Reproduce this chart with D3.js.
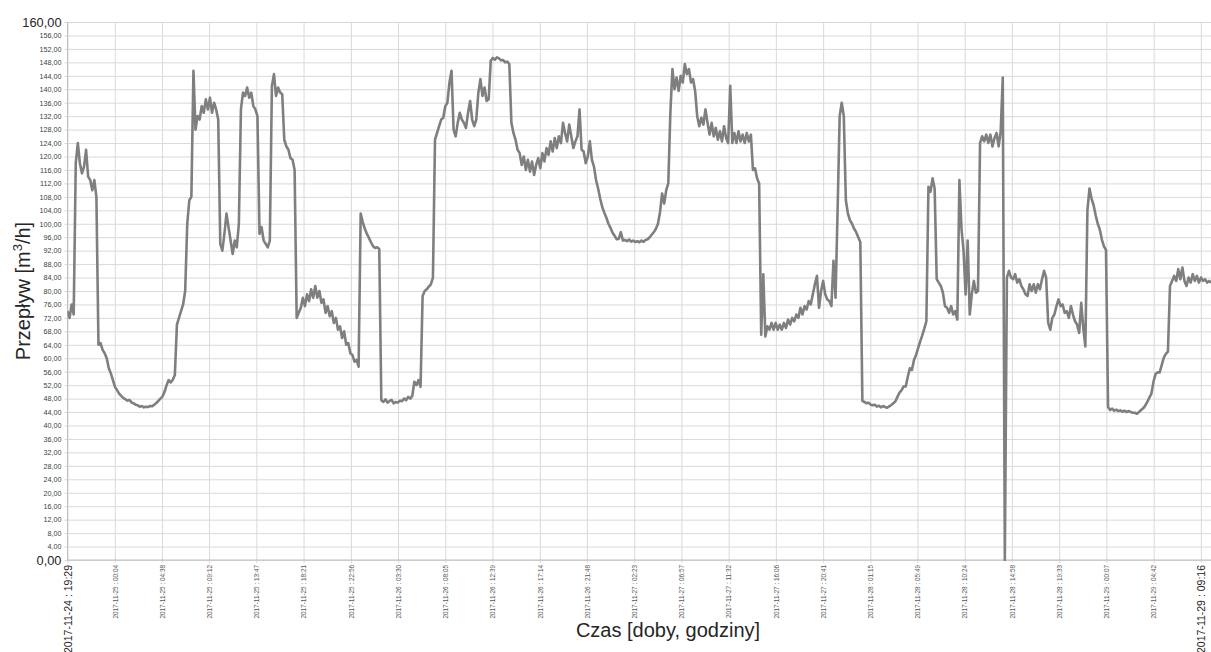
<!DOCTYPE html>
<html>
<head>
<meta charset="utf-8">
<script src="https://cdn.jsdelivr.net/npm/d3@7"></script>
<style>
  body { margin: 0; background: #fff; }
  svg { display: block; font-family: "Liberation Sans", Arial, sans-serif; }
</style>
</head>
<body>
<svg id="chart"></svg>
<script>
// Tick labels on the time axis (every ~4h34m)
const tickLabels = [
    '2017-11-24 : 19:29', '2017-11-25 : 00:04', '2017-11-25 : 04:38', '2017-11-25 : 09:12',
    '2017-11-25 : 13:47', '2017-11-25 : 18:21', '2017-11-25 : 22:56', '2017-11-26 : 03:30',
    '2017-11-26 : 08:05', '2017-11-26 : 12:39', '2017-11-26 : 17:14', '2017-11-26 : 21:48',
    '2017-11-27 : 02:23', '2017-11-27 : 06:57', '2017-11-27 : 11:32', '2017-11-27 : 16:06',
    '2017-11-27 : 20:41', '2017-11-28 : 01:15', '2017-11-28 : 05:49', '2017-11-28 : 10:24',
    '2017-11-28 : 14:58', '2017-11-28 : 19:33', '2017-11-29 : 00:07', '2017-11-29 : 04:42',
    '2017-11-29 : 09:16'
];

// Flow readings [m3/h], one every 12 minutes starting at the first tick
const startLabel = '2017-11-24 : 19:29';
const stepMinutes = 12;
const flow = [
    74, 72, 76, 73, 118, 124, 118, 115, 117, 122,
    114, 113, 110, 113, 108, 64, 64.5, 62.5, 61.5, 60,
    57, 55.5, 53.5, 51.5, 50.5, 49.5, 48.8, 48.2, 47.8, 47.4,
    47.6, 46.9, 46.6, 46.2, 46, 45.6, 45.8, 45.4, 45.6, 45.5,
    45.8, 45.7, 46.2, 46.7, 47.3, 48, 48.6, 50, 52, 53.5,
    52.8, 53.6, 55, 70, 72, 74, 76, 80, 100, 107,
    108, 145.5, 128, 132, 131, 135, 133, 137, 134, 137.5,
    133, 136, 134, 131, 94, 92, 97, 103, 99, 95,
    91, 95, 93, 100, 134, 139, 138, 140.5, 137.5, 139,
    135, 134, 132, 97, 99, 95, 94, 93, 95, 141,
    144.5, 138, 140.5, 139, 138.5, 125, 123, 122, 119.5, 119,
    116, 72, 73.5, 75, 78, 75.5, 79, 77, 80.5, 78,
    81.5, 78, 80, 76.5, 77.5, 73.5, 75.5, 72.5, 74, 70.5,
    72, 68.5, 69.5, 66, 68, 64, 64.5, 61.5, 61, 59,
    59.5, 57.5, 103, 100.5, 98.5, 97, 95.8, 94.5, 93.3, 92.8,
    93, 92.5, 47.5, 47, 47.8, 46.8, 47.3, 47.6, 46.6, 47,
    46.8, 47.4, 47.2, 48, 47.5, 48.5, 48, 48.8, 53, 52,
    53.5, 51.5, 78.5, 80, 80.5, 81.3, 82, 84, 125, 127,
    129, 131, 131.5, 135, 136, 142, 145.5, 128, 126, 130,
    133, 131, 130, 128.5, 133, 136.5, 131, 129, 131, 139,
    143, 138, 140.5, 136.5, 137, 148.5, 149.3, 148.8, 149.5, 149.2,
    148.6, 148.7, 148, 148.2, 147.5, 130, 127, 125, 122, 121,
    117.5, 120, 116, 119, 115.5, 118.5, 114.5, 117.5, 119.5, 116.5,
    121, 118.5, 122.5, 120.5, 124.5, 121.5, 125.5, 122.5, 126, 124,
    130, 127, 124.5, 129.5, 126, 122.5, 124.5, 126, 134, 122,
    121.5, 118, 120, 124.5, 119, 117, 113, 110.5, 107.5, 105,
    103.3, 101.8, 100, 98.8, 97.3, 96.4, 95.4, 95.5, 97.5, 95,
    95.2, 94.8, 95.3, 94.7, 95, 94.6, 94.8, 94.5, 95, 94.6,
    95.2, 95.4, 96, 96.8, 97.5, 98.5, 100, 103.5, 109, 106,
    110, 112, 133, 146, 140, 143.5, 139.5, 144, 142, 147.5,
    144.5, 146, 142, 143, 139.5, 132, 129, 131.5, 129.5, 134,
    130, 126.5, 130, 126, 128.5, 125, 127.5, 124.5, 129, 125.5,
    124, 141, 124, 127, 124, 127.5, 124.5, 126.5, 124, 127,
    124.5, 126.5, 116, 116.5, 113.5, 112, 67, 85, 66.5, 69.5,
    68.5, 70.5, 68.5, 70.5, 68.5, 70, 68.5, 70.5, 69, 71.5,
    70, 72, 71, 73, 72, 75, 73, 75.5, 74.5, 77,
    76, 79, 82, 84.5, 75, 80, 83, 79, 77.5, 77,
    75.5, 89, 78, 104, 132, 136, 132, 107, 103, 101,
    100, 98.5, 97.5, 96, 94.5, 47.3, 47, 46.6, 46.8, 46.2,
    46, 46.2, 45.6, 45.9, 45.4, 45.8, 45.5, 45.3, 45.7, 46.1,
    46.6, 47.2, 48.5, 49.8, 50.5, 51.6, 51.6, 54.5, 57, 56.5,
    59.5, 61, 63, 65, 66.8, 68.8, 71, 111, 109.5, 113.5,
    110.5, 83.5, 82.5, 81.5, 79.5, 75.5, 75, 73.5, 75.5, 73,
    74, 71.5, 113, 98.5, 92, 79, 95, 73, 79, 83,
    79.5, 80, 124, 126, 124.5, 126.5, 124, 126.5, 123, 125.5,
    127, 123, 127.5, 143.5, 0, 84, 86, 84, 83.5, 85,
    82.5, 83.5, 81.5, 80.5, 79, 78.5, 82, 80, 82, 79.5,
    82, 80.5, 83.5, 86, 84, 70.5, 68.5, 72, 73, 75.5,
    77.5, 75.5, 76, 73.5, 74, 72, 75.5, 73, 71, 70,
    67.5, 76.5, 69, 63.5, 104, 110.5, 107.5, 105.5, 102.5, 100,
    98.3, 95.3, 93.3, 92.2, 45.5, 44.6, 45, 44.4, 44.7, 44.3,
    44.5, 44.1, 44.4, 44, 44.3, 44, 43.8, 43.8, 43.5, 44,
    44.6, 45.1, 45.9, 47, 48.3, 49.5, 53, 55.3, 55.8, 55.8,
    58, 60.2, 61.3, 62, 81.5, 83, 84.5, 83, 86.5, 83.5,
    87, 83, 81.5, 84, 82.5, 85, 83, 84.5, 82.5, 84,
    83, 83.5, 82.5, 83, 82.5
];

const width = 1211, height = 652;
const margin = {top: 22, right: 0, bottom: 92, left: 67.5};
const plotBottom = height - margin.bottom;   // y of 0,00
const lastTickX = 1200.8;                    // x of the last time label

const parseTime = d3.timeParse('%Y-%m-%d : %H:%M');
const tickDates = tickLabels.map(parseTime);
const t0 = parseTime(startLabel);

const svg = d3.select('#chart').attr('width', width).attr('height', height);

const x = d3.scaleTime()
    .domain([tickDates[0], tickDates[tickDates.length - 1]])
    .range([margin.left, lastTickX]);

const y = d3.scaleLinear()
    .domain([0, 160])
    .range([plotBottom, margin.top]);

const yTicks = d3.range(0, 161, 4);
const fmt = d => d3.format('.2f')(d).replace('.', ',');

// horizontal grid + y labels
const yAxis = svg.append('g')
    .attr('transform', `translate(${margin.left - 3},0)`)
    .call(d3.axisLeft(y)
        .tickValues(yTicks)
        .tickSize(-(width - margin.left + 3))
        .tickSizeOuter(0)
        .tickPadding(3)
        .tickFormat(fmt));
yAxis.select('.domain').remove();
yAxis.selectAll('.tick line').attr('stroke', '#d9d9d9').attr('stroke-width', 1);
yAxis.selectAll('.tick text')
    .attr('fill', d => (d === 0 || d === 160) ? '#262626' : '#404040')
    .style('font-size', d => (d === 0 || d === 160) ? '12.8px' : '7.2px');

// vertical grid + rotated time labels
const xAxis = svg.append('g')
    .attr('transform', `translate(0,${plotBottom + 3})`)
    .call(d3.axisBottom(x)
        .tickValues(tickDates)
        .tickSize(-(plotBottom + 3 - margin.top))
        .tickSizeOuter(0)
        .tickFormat((d, i) => tickLabels[i]));
xAxis.select('.domain').remove();
xAxis.selectAll('.tick line').attr('stroke', '#d9d9d9').attr('stroke-width', 1);
const lastIdx = tickLabels.length - 1;
xAxis.selectAll('.tick text')
    .attr('transform', 'rotate(-90)')
    .attr('text-anchor', 'end')
    .attr('x', -2)
    .attr('y', 0)
    .attr('dy', '0.35em')
    .attr('fill', (d, i) => (i === 0 || i === lastIdx) ? '#262626' : '#595959')
    .style('font-size', (d, i) => (i === 0 || i === lastIdx) ? '10.5px' : '6.4px');

// axis base lines
svg.append('line')
    .attr('x1', margin.left).attr('x2', width)
    .attr('y1', y(0)).attr('y2', y(0))
    .attr('stroke', '#bfbfbf');
svg.append('line')
    .attr('x1', margin.left).attr('x2', margin.left)
    .attr('y1', y(160)).attr('y2', y(0))
    .attr('stroke', '#bfbfbf');

// flow line
svg.append('clipPath').attr('id', 'plot-clip')
    .append('rect')
    .attr('x', margin.left).attr('y', 0)
    .attr('width', width - margin.left).attr('height', plotBottom + 1);

const line = d3.line()
    .x((d, i) => x(d3.timeMinute.offset(t0, i * stepMinutes)))
    .y(d => y(d));

svg.append('path')
    .datum(flow)
    .attr('clip-path', 'url(#plot-clip)')
    .attr('fill', 'none')
    .attr('stroke', '#7f7f7f')
    .attr('stroke-width', 2.6)
    .attr('stroke-linejoin', 'round')
    .attr('d', line);

// axis titles
const yTitle = svg.append('text')
    .attr('transform', 'translate(30,291) rotate(-90)')
    .attr('text-anchor', 'middle')
    .attr('fill', '#262626')
    .style('font-size', '20px');
yTitle.append('tspan').text('Przepływ [m');
yTitle.append('tspan').attr('dy', -8).style('font-size', '13px').text('3');
yTitle.append('tspan').attr('dy', 8).text('/h]');

svg.append('text')
    .attr('x', 668)
    .attr('y', 637)
    .attr('text-anchor', 'middle')
    .attr('fill', '#262626')
    .style('font-size', '20px')
    .text('Czas [doby, godziny]');
</script>
</body>
</html>
